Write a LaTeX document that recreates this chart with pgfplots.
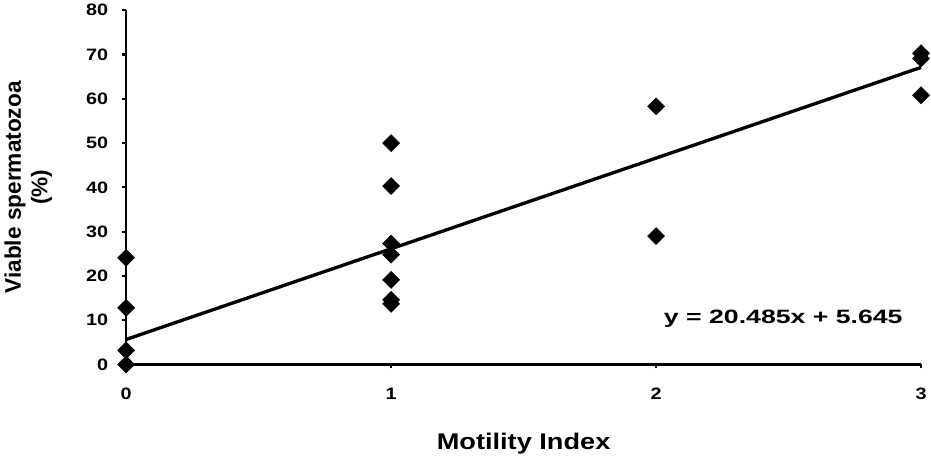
\documentclass[border=0pt]{standalone}
\usepackage{pgfplots}
\pgfplotsset{compat=1.18}
\usepackage{fontspec}
\setmainfont{Liberation Sans}
% horizontal text in the scan looks widened
\newfontfamily\hfont[FakeStretch=1.2]{Liberation Sans}
\newfontfamily\eqfont[FakeStretch=1.38]{Liberation Sans}
\begin{document}
\begin{tikzpicture}
\begin{axis}[
    scale only axis,
    width=597pt, height=266pt,
    xmin=0, xmax=3,
    ymin=0, ymax=80,
    axis x line*=bottom,
    axis y line*=left,
    axis line style={line width=2pt, -},
    xtick={0,1,2,3},
    ytick={0,10,...,80},
    tick align=outside,
    major tick length=3pt,
    tick style={line width=1.6pt, black},
    xticklabel style={yshift=-11pt},
    yticklabel style={xshift=-7pt},
    ticklabel style={font=\hfont\fontsize{12.4}{14}\selectfont\bfseries},
    /pgf/number format/assume math mode=true,
    xlabel={Motility Index},
    ylabel={Viable spermatozoa\\(\%)},
    xlabel style={font=\hfont\fontsize{17}{20}\selectfont\bfseries,
        at={(axis description cs:0.5,0)}, anchor=north, yshift=-42pt,
        inner ysep=9pt},
    % rotated node: yshift moves it to the left
    ylabel style={font=\fontsize{17}{20}\selectfont\bfseries, align=center,
        at={(axis description cs:0,0.5)}, anchor=south, yshift=52pt},
    clip=false
]
% data points
\addplot[only marks, mark=square*, mark size=4.5pt,
    mark options={rotate=45, fill=black, draw=black}]
coordinates {
    (0,24.1) (0,12.8) (0,3.2) (0,0)
    (1,50) (1,40.3) (1,27.3) (1,24.8) (1,19.1) (1,14.6) (1,13.7)
    (2,58.3) (2,29)
    (3,70.3) (3,69.1) (3,60.8)
};
% trend line y = 20.485x + 5.645
\addplot[black, line width=2.5pt] coordinates {(0,5.645) (3,67.1)};
\node[font=\eqfont\fontsize{14.5}{17}\selectfont\bfseries] at (axis cs:2.48,10.4) {y = 20.485x + 5.645};
\end{axis}
\end{tikzpicture}
\end{document}
